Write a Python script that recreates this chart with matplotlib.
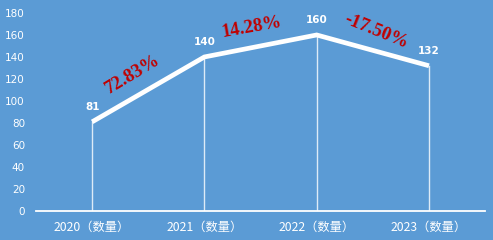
import matplotlib
matplotlib.use("Agg")
import matplotlib.pyplot as plt

categories = ["2020（数量）", "2021（数量）", "2022（数量）", "2023（数量）"]
values = [81, 140, 160, 132]
growth = ["72.83%", "14.28%", "-17.50%"]
yticks = [0, 20, 40, 60, 80, 100, 120, 140, 160, 180]

bg = "#5B9BD5"
fig = plt.figure(figsize=(4.93, 2.4), dpi=100, facecolor=bg)
ax = fig.add_axes([0.073, 0.121, 0.911, 0.825], facecolor=bg)
x = list(range(len(values)))
ax.set_xlim(-0.5, len(values) - 0.5)
ax.set_ylim(0, 180)

for xi, v in zip(x, values):
    ax.plot([xi, xi], [0, v], color="#DDEBF7", lw=1.0, zorder=2)
ax.plot(x, values, color="white", lw=3.4, solid_capstyle="butt",
        solid_joinstyle="miter", zorder=3)

for xi, v in zip(x, values):
    ax.annotate(str(v), (xi, v), xytext=(0, 7), textcoords="offset points",
                ha="center", va="bottom", color="white", fontsize=7.5,
                fontweight="bold", family="DejaVu Sans")

rots = [31, 10, -22]
offs = [(-0.14, 13.5), (-0.08, 17), (0.03, 17)]
for i, g in enumerate(growth):
    xm = (x[i] + x[i + 1]) / 2
    ym = (values[i] + values[i + 1]) / 2
    ax.text(xm + offs[i][0], ym + offs[i][1], g, rotation=rots[i],
            ha="center", va="center", color="#C00000", fontsize=13.5,
            fontweight="bold", family="Liberation Serif",
            rotation_mode="anchor")

ax.set_yticks(yticks)
ax.set_yticklabels([str(t) for t in yticks], color="white", fontsize=7.5)
ax.set_xticks(x)
ax.set_xticklabels(categories, color="white", fontsize=8.8,
                   family=["Noto Sans CJK SC", "DejaVu Sans"])
ax.tick_params(axis="x", length=0, pad=7)
ax.tick_params(axis="y", length=0, pad=8)
for s in ["top", "right", "left"]:
    ax.spines[s].set_visible(False)
ax.spines["bottom"].set_color("white")
ax.spines["bottom"].set_linewidth(1.3)

fig.savefig("out.png", dpi=100, facecolor=bg)
